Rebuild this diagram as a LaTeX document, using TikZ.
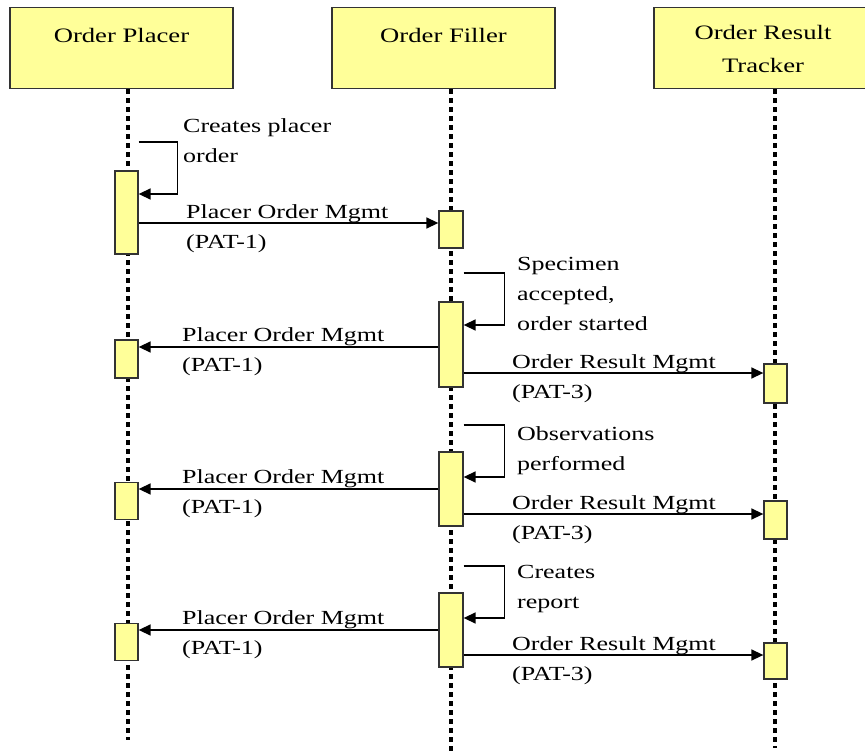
\documentclass[tikz,border=0pt]{standalone}
\usepackage{fontspec}
\setmainfont{Liberation Serif}[FakeStretch=1.3]
\usetikzlibrary{arrows.meta}
\definecolor{boxfill}{HTML}{FFFF99}
\definecolor{boxline}{HTML}{333333}
\begin{document}
\begin{tikzpicture}[x=1pt,y=-1pt,
  actor/.style={draw=boxline,fill=boxfill,line width=1.3pt,minimum width=223pt,
    minimum height=81pt,anchor=north,inner sep=0pt,
    font=\fontsize{20.5}{33}\selectfont,align=center},
  bar/.style={draw=boxline,fill=boxfill,line width=1.3pt,minimum width=23pt,inner sep=0pt},
  lifeline/.style={line width=4pt,dash pattern=on 4.5pt off 4.5pt},
  msg/.style={line width=1.5pt,-{Triangle[length=12pt,width=11pt]}},
  lbl/.style={font=\fontsize{20}{30}\selectfont,align=left,anchor=base west,inner sep=0pt}]
\useasboundingbox (0,0) rectangle (865,754);
\begin{scope}
\clip (0,0) rectangle (865,754);
% actors
\node[actor,text height=35pt,text depth=46pt] (hp) at (121.5,7) {Order Placer};
\node[actor,text height=35pt,text depth=46pt] (hf) at (443.5,7) {Order Filler};
\node[actor,minimum width=218pt,text height=65pt,text depth=16pt] (ht) at (763,7) {Order Result\\Tracker};
% lifeline ends
\coordinate (lpE) at (128,740);
\coordinate (lfE) at (451,756);
\coordinate (ltE) at (775,748);
\draw[lifeline] (hp.south -| lpE) -- (lpE);
\draw[lifeline] (hf.south -| lfE) -- (lfE);
\draw[lifeline] (ht.south -| ltE) -- (ltE);
% activation bars
\node[bar,minimum height=83pt] (p1) at (126.5,212.5) {};
\node[bar,minimum height=38pt] (p2) at (126.5,359) {};
\node[bar,minimum height=37pt] (p3) at (126.5,501) {};
\node[bar,minimum height=37pt] (p4) at (126.5,642) {};
\node[bar,minimum width=24pt,minimum height=37pt] (f1) at (451,229.5) {};
\node[bar,minimum width=24pt,minimum height=85pt] (f2) at (451,344.5) {};
\node[bar,minimum width=24pt,minimum height=74pt] (f3) at (451,489) {};
\node[bar,minimum width=24pt,minimum height=74pt] (f4) at (451,630) {};
\node[bar,minimum height=39pt] (t1) at (775.5,383.5) {};
\node[bar,minimum height=38pt] (t2) at (775.5,520) {};
\node[bar,minimum height=36pt] (t3) at (775.5,661) {};
% heights
\coordinate (a0) at (0,142); \coordinate (b0) at (0,194);
\coordinate (a1) at (0,273); \coordinate (b1) at (0,325);
\coordinate (a2) at (0,425); \coordinate (b2) at (0,477);
\coordinate (a3) at (0,566); \coordinate (b3) at (0,618);
\coordinate (m0) at (0,223);
\coordinate (m1) at (0,347); \coordinate (r1) at (0,373);
\coordinate (m2) at (0,489); \coordinate (r2) at (0,514);
\coordinate (m3) at (0,630); \coordinate (r3) at (0,655);
% self messages
\draw[msg] (p1.east |- a0) -- ++(39,0) |- (p1.east |- b0);
\draw[msg] (f2.east |- a1) -- ++(41,0) |- (f2.east |- b1);
\draw[msg] (f3.east |- a2) -- ++(41,0) |- (f3.east |- b2);
\draw[msg] (f4.east |- a3) -- ++(41,0) |- (f4.east |- b3);
% messages
\draw[msg] (p1.east |- m0) -- (f1.west |- m0);
\draw[msg] (f2.west |- m1) -- (p2.east |- m1);
\draw[msg] (f2.east |- r1) -- (t1.west |- r1);
\draw[msg] (f3.west |- m2) -- (p3.east |- m2);
\draw[msg] (f3.east |- r2) -- (t2.west |- r2);
\draw[msg] (f4.west |- m3) -- (p4.east |- m3);
\draw[msg] (f4.east |- r3) -- (t3.west |- r3);
% labels (anchor at the baseline of the last line)
\node[lbl] (s0) at (183,163) {Creates placer\\order};
\node[lbl] (l0) at (186,248) {Placer Order Mgmt\\(PAT-1)};
\node[lbl] (s1) at (517,330) {Specimen\\accepted,\\order started};
\node[lbl] (l1) at (182,371) {Placer Order Mgmt\\(PAT-1)};
\node[lbl] (k1) at (512,398) {Order Result Mgmt\\(PAT-3)};
\node[lbl] (s2) at (517,470) {Observations\\performed};
\node[lbl] (l2) at (182,513) {Placer Order Mgmt\\(PAT-1)};
\node[lbl] (k2) at (512,539) {Order Result Mgmt\\(PAT-3)};
\node[lbl] (s3) at (517,608) {Creates\\report};
\node[lbl] (l3) at (182,654) {Placer Order Mgmt\\(PAT-1)};
\node[lbl] (k3) at (512,680) {Order Result Mgmt\\(PAT-3)};
\end{scope}
\end{tikzpicture}
\end{document}
